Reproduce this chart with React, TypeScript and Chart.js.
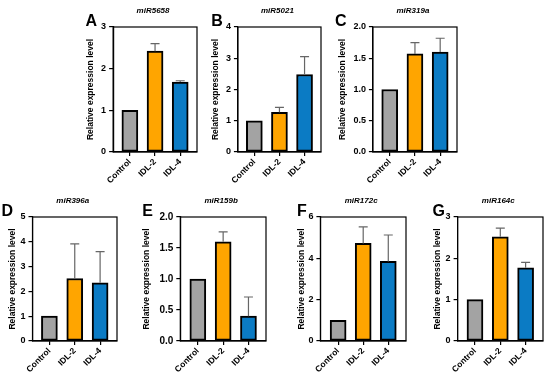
import React, { useEffect, useRef } from "react";
import { Chart, registerables } from "chart.js";

Chart.register(...registerables);

// ---- data ----
const categories = ["Control", "IDL-2", "IDL-4"];
const panelLetters = ["A", "B", "C", "D", "E", "F", "G"];
const geneNames = ["miR5658", "miR5021", "miR319a", "miR396a", "miR159b", "miR172c", "miR164c"];
const meansA = [1.0, 2.42, 1.68];
const errsA = [0, 0.18, 0.03];
const meansB = [1.0, 1.27, 2.48];
const errsB = [0, 0.16, 0.57];
const meansC = [1.0, 1.57, 1.6];
const errsC = [0, 0.18, 0.22];
const meansD = [1.0, 2.52, 2.35];
const errsD = [0, 1.4, 1.25];
const meansE = [1.0, 1.6, 0.4];
const errsE = [0, 0.16, 0.31];
const meansF = [1.0, 4.72, 3.85];
const errsF = [0, 0.8, 1.28];
const meansG = [1.0, 2.52, 1.77];
const errsG = [0, 0.21, 0.13];
const yMaxes = [3, 4, 2, 5, 2, 6, 3];
const ySteps = [1, 1, 0.5, 1, 0.5, 2, 1];
const yDecimals = [0, 0, 1, 0, 1, 0, 0];
const yTitle = "Relative expression level";

const allMeans = [meansA, meansB, meansC, meansD, meansE, meansF, meansG];
const allErrs = [errsA, errsB, errsC, errsD, errsE, errsF, errsG];

// ---- layout (plot-area rectangles in page px) ----
const layout = [
  { l: 112.7, t: 26.7, r: 196.7, b: 151.7, d: 22, lx: -27.7, tick: 9 },
  { l: 238.3, t: 26.7, r: 321.7, b: 151.7, d: 21.8, lx: -26.6, tick: 9 },
  { l: 373.3, t: 26.7, r: 457.3, b: 151.7, d: 29.8, lx: -38, tick: 9 },
  { l: 32.7, t: 217.3, r: 116.7, b: 341.7, d: 19.4, lx: -31, tick: 9 },
  { l: 180.7, t: 217.3, r: 266, b: 341.7, d: 33.2, lx: -38, tick: 10 },
  { l: 320, t: 217.3, r: 406, b: 341.7, d: 18.3, lx: -23.3, tick: 9 },
  { l: 458, t: 217.3, r: 543, b: 341.7, d: 19.5, lx: -25, tick: 9 },
];

const colors = ["#a3a3a3", "#ffa500", "#0b7bc4"];
const FONT = "'Liberation Sans', Arial, sans-serif";
const BAR_SPACING = 25.2;
const PAD_TOP = 30;
const PAD_RIGHT = 6;
const PAD_LEFT = 24;
const X_AXIS_H = 40;
const TITLE_LH = 8.5 * 1.2;

function Panel({ idx }: { idx: number }) {
  const ref = useRef<HTMLCanvasElement>(null);
  const g = layout[idx];
  const W = g.r - g.l;
  const H = g.b - g.t;
  const yw = g.d + TITLE_LH / 2;
  const cw = Math.round(PAD_LEFT + yw + W + PAD_RIGHT);
  const ch = Math.round(PAD_TOP + H + X_AXIS_H);
  const left = g.l - yw - PAD_LEFT;
  const top = g.t - PAD_TOP;

  useEffect(() => {
    const means = allMeans[idx];
    const errs = allErrs[idx];
    const span = W / BAR_SPACING;
    const xMin = 1 - span / 2;
    const xMax = 1 + span / 2;

    const decor = {
      id: "decor" + idx,
      afterDatasetsDraw(chart: any) {
        const { ctx, chartArea } = chart;
        const xs = chart.scales.x;
        const ys = chart.scales.y;
        ctx.save();
        ctx.strokeStyle = "#666";
        ctx.lineWidth = 1.2;
        means.forEach((m: number, i: number) => {
          if (!errs[i]) return;
          const x = xs.getPixelForValue(i);
          const y0 = ys.getPixelForValue(m);
          const y1 = ys.getPixelForValue(m + errs[i]);
          ctx.beginPath();
          ctx.moveTo(x, y0);
          ctx.lineTo(x, y1);
          ctx.moveTo(x - 4.5, y1);
          ctx.lineTo(x + 4.5, y1);
          ctx.stroke();
        });
        // frame
        ctx.strokeStyle = "#000";
        ctx.lineWidth = 1.2;
        ctx.strokeRect(chartArea.left, chartArea.top, chartArea.right - chartArea.left, chartArea.bottom - chartArea.top);
        // gene title
        ctx.fillStyle = "#000";
        ctx.textAlign = "center";
        ctx.textBaseline = "alphabetic";
        ctx.font = "italic bold 8px " + FONT;
        ctx.fillText(geneNames[idx], (chartArea.left + chartArea.right) / 2 - 2, chartArea.top - 13.8);
        // panel letter
        ctx.textAlign = "left";
        ctx.font = "bold 16px " + FONT;
        ctx.fillText(panelLetters[idx], chartArea.left + g.lx, chartArea.top - 1.5);
        ctx.restore();
      },
    };

    const chart = new Chart(ref.current as HTMLCanvasElement, {
      type: "bar",
      data: {
        datasets: [
          {
            data: means.map((v: number, i: number) => ({ x: i, y: v })),
            backgroundColor: colors,
            borderColor: "#000",
            borderWidth: 2,
            borderSkipped: false,
            barThickness: 16,
          },
        ],
      },
      options: {
        animation: false,
        responsive: false,
        devicePixelRatio: 1,
        layout: { padding: { top: PAD_TOP, right: PAD_RIGHT, left: PAD_LEFT, bottom: 0 } },
        plugins: { legend: { display: false }, tooltip: { enabled: false } },
        scales: {
          x: {
            type: "linear",
            min: xMin,
            max: xMax,
            offset: false,
            afterBuildTicks: (axis: any) => {
              axis.ticks = categories.map((_, i) => ({ value: i }));
            },
            afterFit: (axis: any) => {
              axis.height = X_AXIS_H;
            },
            grid: {
              display: true,
              drawOnChartArea: false,
              drawTicks: true,
              tickLength: 4,
              color: "#000",
              lineWidth: 1.2,
              offset: false,
            },
            border: { display: true, color: "#000", width: 1.2 },
            ticks: {
              minRotation: 45,
              maxRotation: 45,
              autoSkip: false,
              padding: 1,
              color: "#000",
              font: { family: FONT, size: 8.5, weight: "bold" },
              callback: (v: any) => categories[Math.round(Number(v))] ?? "",
            },
          },
          y: {
            min: 0,
            max: yMaxes[idx],
            afterFit: (axis: any) => {
              axis.width = yw;
            },
            grid: {
              display: true,
              drawOnChartArea: false,
              drawTicks: true,
              tickLength: 4,
              color: "#000",
              lineWidth: 1.2,
            },
            border: { display: true, color: "#000", width: 1.2 },
            ticks: {
              stepSize: ySteps[idx],
              padding: 3,
              color: "#000",
              font: { family: FONT, size: g.tick, weight: "bold" },
              callback: (v: any) => Number(v).toFixed(yDecimals[idx]),
            },
            title: {
              display: true,
              text: yTitle,
              color: "#000",
              padding: 0,
              font: { family: FONT, size: 8.5, weight: "bold" },
            },
          },
        },
      } as any,
      plugins: [decor],
    });
    return () => chart.destroy();
  }, [idx]);

  return (
    <canvas
      ref={ref}
      width={cw}
      height={ch}
      style={{ position: "absolute", left: left, top: top, width: cw, height: ch }}
    />
  );
}

export default function App() {
  return (
    <div
      style={{
        position: "fixed",
        left: 0,
        top: 0,
        width: 550,
        height: 381,
        background: "#fff",
        overflow: "hidden",
      }}
    >
      {layout.map((_, i) => (
        <Panel key={i} idx={i} />
      ))}
    </div>
  );
}
